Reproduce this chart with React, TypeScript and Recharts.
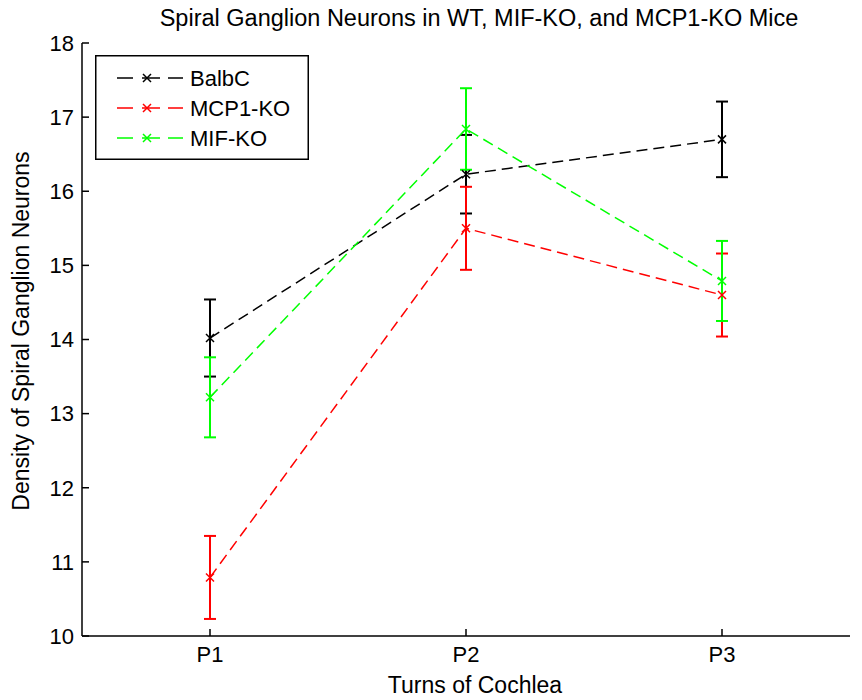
import React from 'react';
import { LineChart, Line, XAxis, YAxis, ErrorBar, Legend, Label } from 'recharts';

const categories = ['P1', 'P2', 'P3'];
const positions = [1, 2, 3];
const balbc = [14.02, 16.23, 16.7];
const balbcErr = [0.52, 0.53, 0.51];
const mcp1 = [10.79, 15.5, 14.6];
const mcp1Err = [0.56, 0.56, 0.56];
const mif = [13.22, 16.84, 14.79];
const mifErr = [0.54, 0.55, 0.54];
const yTicks = [10, 11, 12, 13, 14, 15, 16, 17, 18];

const seriesNames = ['BalbC', 'MCP1-KO', 'MIF-KO'];
const seriesColors = ['#000000', '#ff0000', '#00ff00'];

const data = positions.map((p, i) => ({
  x: p,
  balbc: balbc[i],
  balbcErr: balbcErr[i],
  mcp1: mcp1[i],
  mcp1Err: mcp1Err[i],
  mif: mif[i],
  mifErr: mifErr[i],
}));

const FONT = '"Liberation Sans", Arial, Helvetica, sans-serif';
const DASH = '11 6';

const makeDot = (color: string) => (props: any) => {
  const { cx, cy, index } = props;
  if (cx == null || cy == null) return <g key={index} />;
  const s = 4;
  return (
    <path
      key={index}
      d={`M${cx - s},${cy - s}L${cx + s},${cy + s}M${cx - s},${cy + s}L${cx + s},${cy - s}`}
      stroke={color}
      strokeWidth={1.5}
      fill="none"
    />
  );
};

const LegendBox = () => (
  <svg width={214} height={105} style={{ display: 'block' }}>
    <rect x={0.75} y={0.75} width={212.5} height={103.5} fill="#ffffff" stroke="#000" strokeWidth={1.5} />
    {seriesNames.map((name, i) => {
      const cy = 23 + i * 30;
      const c = seriesColors[i];
      return (
        <g key={name}>
          <line x1={22} y1={cy} x2={88} y2={cy} stroke={c} strokeWidth={1.5} strokeDasharray="16 9 18 8 15" />
          <path d={`M${48},${cy - 4}L${56},${cy + 4}M${48},${cy + 4}L${56},${cy - 4}`} stroke={c} strokeWidth={1.5} />
          <text x={95} y={cy + 8} fontSize={22} fontFamily={FONT} fill="#000">
            {name}
          </text>
        </g>
      );
    })}
  </svg>
);

export default function App() {
  return (
    <div style={{ position: 'relative', width: 854, height: 692, background: '#fff' }}>
      <LineChart
        width={854}
        height={692}
        data={data}
        margin={{ top: 35, right: 12, bottom: 0, left: 0 }}
      >
        <XAxis
          dataKey="x"
          type="number"
          domain={[0.5, 3.5]}
          ticks={positions}
          tickFormatter={(v: number) => categories[v - 1]}
          height={64}
          tickSize={-7}
          tickMargin={17}
          stroke="#000"
          strokeWidth={1.5}
          tick={{ fill: '#000', fontSize: 22, fontFamily: FONT }}
          interval={0}
        >
          <Label
            content={() => (
              <text x={467} y={685} textAnchor="middle" fontSize={23} fontFamily={FONT} fill="#000">
                Turns of Cochlea
              </text>
            )}
          />
        </XAxis>
        <YAxis
          type="number"
          domain={[10, 18]}
          ticks={yTicks}
          width={74}
          tickSize={-7}
          tickMargin={15}
          stroke="#000"
          strokeWidth={1.5}
          tick={{ fill: '#000', fontSize: 22, fontFamily: FONT }}
          interval={0}
        >
          <Label
            content={() => (
              <text
                x={21}
                y={323}
                textAnchor="middle"
                fontSize={23}
                fontFamily={FONT}
                fill="#000"
                transform="rotate(-90 21 323)"
              >
                Density of Spiral Ganglion Neurons
              </text>
            )}
          />
        </YAxis>
        <Legend
          layout="vertical"
          align="center"
          verticalAlign="middle"
          wrapperStyle={{ position: 'absolute', left: 87, top: 47, width: 214, height: 105 }}
          content={() => <LegendBox />}
        />
        <Line
          dataKey="balbc"
          stroke={seriesColors[0]}
          strokeWidth={1.5}
          strokeDasharray={DASH}
          dot={makeDot(seriesColors[0])}
          activeDot={false}
          isAnimationActive={false}
        >
          <ErrorBar dataKey="balbcErr" width={6} stroke={seriesColors[0]} strokeWidth={2} direction="y" isAnimationActive={false} />
        </Line>
        <Line
          dataKey="mcp1"
          stroke={seriesColors[1]}
          strokeWidth={1.5}
          strokeDasharray={DASH}
          dot={makeDot(seriesColors[1])}
          activeDot={false}
          isAnimationActive={false}
        >
          <ErrorBar dataKey="mcp1Err" width={6} stroke={seriesColors[1]} strokeWidth={2} direction="y" isAnimationActive={false} />
        </Line>
        <Line
          dataKey="mif"
          stroke={seriesColors[2]}
          strokeWidth={1.5}
          strokeDasharray={DASH}
          dot={makeDot(seriesColors[2])}
          activeDot={false}
          isAnimationActive={false}
        >
          <ErrorBar dataKey="mifErr" width={6} stroke={seriesColors[2]} strokeWidth={2} direction="y" isAnimationActive={false} />
        </Line>
      </LineChart>
      <svg
        width={854}
        height={60}
        style={{ position: 'absolute', left: 0, top: 0, pointerEvents: 'none', overflow: 'visible' }}
      >
        <text x={471} y={18} textAnchor="middle" fontSize={23.5} fontFamily={FONT} fill="#000">
          Spiral Ganglion Neurons in WT, MIF-KO, and MCP1-KO Mice
        </text>
      </svg>
    </div>
  );
}
